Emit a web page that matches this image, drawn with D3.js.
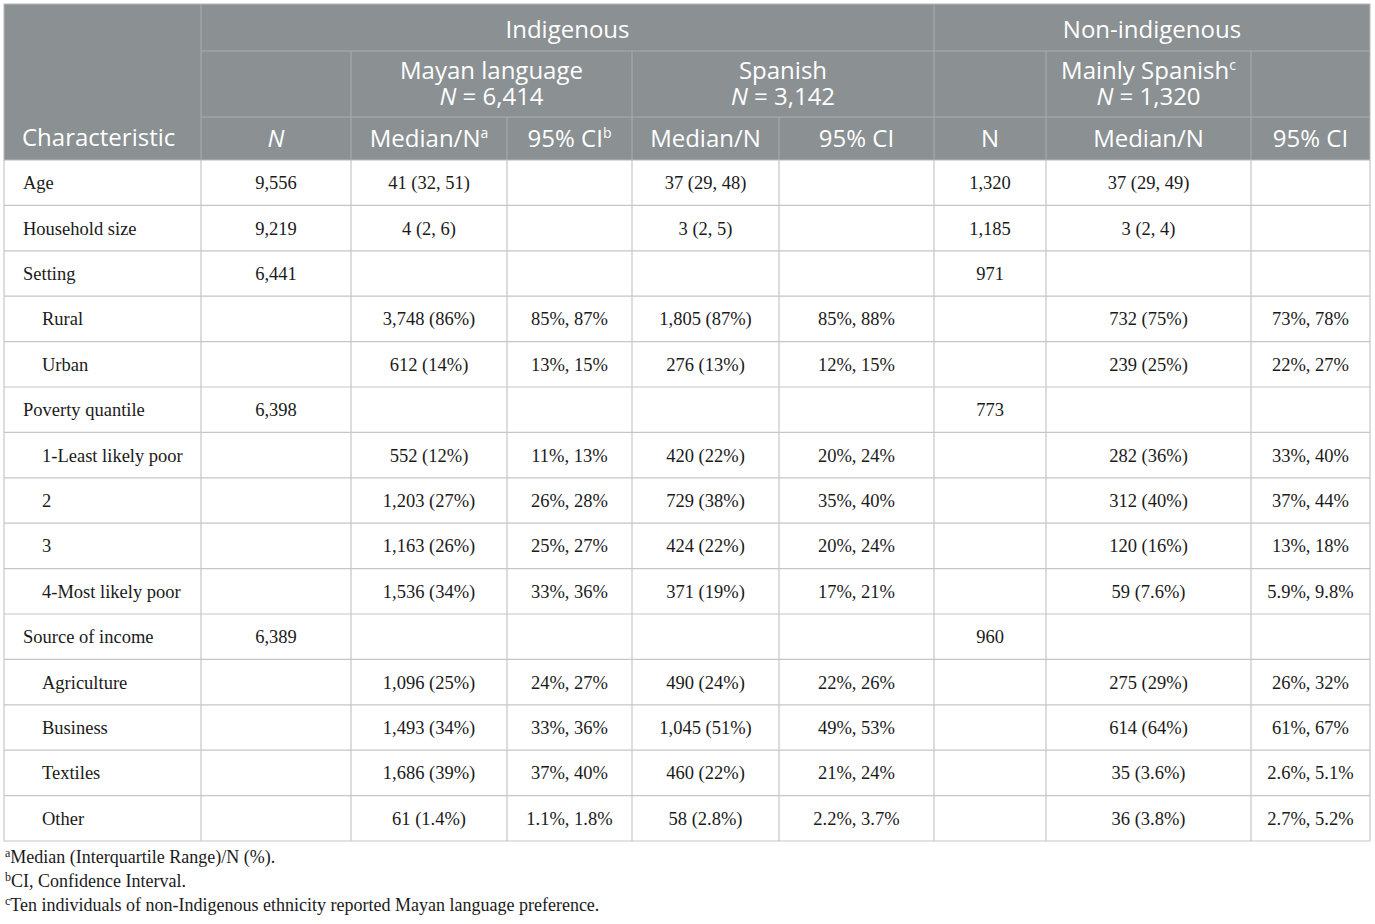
<!DOCTYPE html>
<html>
<head>
<meta charset="utf-8">
<script src="https://cdn.jsdelivr.net/npm/d3@7"></script>
<style>
  body { margin: 0; background: #fff; }
</style>
</head>
<body>
<div id="chart"></div>
<script>
// table data
const characteristics = ["Age", "Household size", "Setting", "Rural", "Urban", "Poverty quantile",
  "1-Least likely poor", "2", "3", "4-Most likely poor", "Source of income",
  "Agriculture", "Business", "Textiles", "Other"];
const subRow = [0, 0, 0, 1, 1, 0, 1, 1, 1, 1, 0, 1, 1, 1, 1];
const totalN = ["9,556", "9,219", "6,441", "", "", "6,398", "", "", "", "", "6,389", "", "", "", ""];
const mayanMedian = ["41 (32, 51)", "4 (2, 6)", "", "3,748 (86%)", "612 (14%)", "", "552 (12%)",
  "1,203 (27%)", "1,163 (26%)", "1,536 (34%)", "", "1,096 (25%)", "1,493 (34%)", "1,686 (39%)", "61 (1.4%)"];
const mayanCI = ["", "", "", "85%, 87%", "13%, 15%", "", "11%, 13%", "26%, 28%", "25%, 27%",
  "33%, 36%", "", "24%, 27%", "33%, 36%", "37%, 40%", "1.1%, 1.8%"];
const spanishMedian = ["37 (29, 48)", "3 (2, 5)", "", "1,805 (87%)", "276 (13%)", "", "420 (22%)",
  "729 (38%)", "424 (22%)", "371 (19%)", "", "490 (24%)", "1,045 (51%)", "460 (22%)", "58 (2.8%)"];
const spanishCI = ["", "", "", "85%, 88%", "12%, 15%", "", "20%, 24%", "35%, 40%", "20%, 24%",
  "17%, 21%", "", "22%, 26%", "49%, 53%", "21%, 24%", "2.2%, 3.7%"];
const nonN = ["1,320", "1,185", "971", "", "", "773", "", "", "", "", "960", "", "", "", ""];
const nonMedian = ["37 (29, 49)", "3 (2, 4)", "", "732 (75%)", "239 (25%)", "", "282 (36%)",
  "312 (40%)", "120 (16%)", "59 (7.6%)", "", "275 (29%)", "614 (64%)", "35 (3.6%)", "36 (3.8%)"];
const nonCI = ["", "", "", "73%, 78%", "22%, 27%", "", "33%, 40%", "37%, 44%", "13%, 18%",
  "5.9%, 9.8%", "", "26%, 32%", "61%, 67%", "2.6%, 5.1%", "2.7%, 5.2%"];
const footnotes = [
  ["a", "Median (Interquartile Range)/N (%)."],
  ["b", "CI, Confidence Interval."],
  ["c", "Ten individuals of non-Indigenous ethnicity reported Mayan language preference."]
];

const width = 1375;
const height = 924;

// column edges
const edges = [4, 201, 351, 507, 632, 779, 934, 1046, 1251, 1370];
const columns = [characteristics, totalN, mayanMedian, mayanCI, spanishMedian, spanishCI, nonN, nonMedian, nonCI];

const headTop = 4, head1 = 51, head2 = 117, headBottom = 160, tableBottom = 841;

const y = d3.scaleBand()
  .domain(d3.range(characteristics.length))
  .range([headBottom, tableBottom]);

const headFill = "#8b9093";
const headLine = "#a9adb0";
const gridLine = "#c6c6c6";
const sans = "'Open Sans', 'Noto Sans', sans-serif";
const serif = "'Liberation Serif', 'DejaVu Serif', serif";

const svg = d3.select("#chart")
  .append("svg")
  .attr("width", width)
  .attr("height", height);

// header background
svg.append("rect")
  .attr("x", edges[0])
  .attr("y", headTop)
  .attr("width", edges[9] - edges[0])
  .attr("height", headBottom - headTop)
  .attr("fill", headFill);

// header lines
const hLines = [
  [edges[1], edges[9], head1],
  [edges[1], edges[9], head2]
];
const vLines = [
  [edges[1], headTop, headBottom],
  [edges[6], headTop, headBottom],
  [edges[2], head1, headBottom],
  [edges[4], head1, headBottom],
  [edges[7], head1, headBottom],
  [edges[8], head1, headBottom],
  [edges[3], head2, headBottom],
  [edges[5], head2, headBottom]
];
svg.append("g").selectAll("line")
  .data(hLines)
  .enter().append("line")
  .attr("x1", d => d[0]).attr("x2", d => d[1])
  .attr("y1", d => d[2]).attr("y2", d => d[2])
  .attr("stroke", headLine).attr("stroke-width", 1);
svg.append("g").selectAll("line")
  .data(vLines)
  .enter().append("line")
  .attr("x1", d => d[0]).attr("x2", d => d[0])
  .attr("y1", d => d[1]).attr("y2", d => d[2])
  .attr("stroke", headLine).attr("stroke-width", 1);

// header text
const headText = svg.append("g")
  .attr("fill", "#fff")
  .attr("font-family", sans)
  .attr("font-size", 24);

function headLabel(x, yy, anchor) {
  return headText.append("text")
    .attr("x", x)
    .attr("y", yy)
    .attr("text-anchor", anchor || "middle");
}
function sup(t, s) {
  t.append("tspan").attr("dy", -9).attr("font-size", 14).text(s);
}

headLabel(22, 146, "start").text("Characteristic");
headLabel((edges[1] + edges[6]) / 2, 38).text("Indigenous");
headLabel((edges[6] + edges[9]) / 2, 38).text("Non-indigenous");

const groups = [
  { name: "Mayan language", n: "6,414", x0: edges[2], x1: edges[4] },
  { name: "Spanish", n: "3,142", x0: edges[4], x1: edges[6] },
  { name: "Mainly Spanish", n: "1,320", x0: edges[7], x1: edges[8], note: "c" }
];
groups.forEach(g => {
  const cx = (g.x0 + g.x1) / 2;
  // two lines in one text element
  const t = headLabel(cx, 79);
  t.append("tspan").text(g.name);
  if (g.note) t.append("tspan").attr("dy", -9).attr("font-size", 14).text(g.note);
  t.append("tspan").attr("x", cx).attr("y", 105).attr("font-style", "italic").text("N");
  t.append("tspan").text(" = " + g.n);
});

const subHeads = [
  { text: "N", italic: true },
  { text: "Median/N", note: "a" },
  { text: "95% CI", note: "b" },
  { text: "Median/N" },
  { text: "95% CI" },
  { text: "N" },
  { text: "Median/N" },
  { text: "95% CI" }
];
subHeads.forEach((h, i) => {
  const t = headLabel((edges[i + 1] + edges[i + 2]) / 2, 147)
    .attr("font-style", h.italic ? "italic" : null)
    .text(h.text);
  if (h.note) sup(t, h.note);
});

// body grid
const grid = svg.append("g")
  .attr("stroke", gridLine)
  .attr("stroke-width", 1.2);

grid.selectAll(".row-line")
  .data(d3.range(characteristics.length))
  .enter().append("line")
  .attr("x1", edges[0]).attr("x2", edges[9])
  .attr("y1", d => y(d) + y.bandwidth()).attr("y2", d => y(d) + y.bandwidth());

grid.selectAll(".col-line")
  .data(edges)
  .enter().append("line")
  .attr("x1", d => d).attr("x2", d => d)
  .attr("y1", headBottom).attr("y2", tableBottom);

// outer header border
svg.append("rect")
  .attr("x", edges[0])
  .attr("y", headTop)
  .attr("width", edges[9] - edges[0])
  .attr("height", headBottom - headTop)
  .attr("fill", "none")
  .attr("stroke", "#b5b8ba");

// body text
const body = svg.append("g")
  .attr("font-family", serif)
  .attr("font-size", 18.5)
  .attr("fill", "#1a1a1a");

columns.forEach((col, ci) => {
  body.append("g").selectAll("text")
    .data(col.map((v, i) => ({ v, i })))
    .enter().append("text")
    .attr("x", d => ci === 0 ? edges[0] + (subRow[d.i] ? 38 : 19) : (edges[ci] + edges[ci + 1]) / 2)
    .attr("y", d => y(d.i) + y.bandwidth() / 2)
    .attr("dy", "0.35em")
    .attr("text-anchor", ci === 0 ? "start" : "middle")
    .text(d => d.v);
});

// footnotes
const notes = svg.append("g")
  .attr("font-family", serif)
  .attr("font-size", 18)
  .attr("fill", "#1a1a1a");

notes.selectAll("text")
  .data(footnotes)
  .enter().append("text")
  .attr("x", 5)
  .attr("y", (d, i) => 863 + i * 24)
  .each(function(d) {
    const t = d3.select(this);
    t.append("tspan").attr("font-size", 12).attr("dy", -6).text(d[0]);
    t.append("tspan").attr("dy", 6).text(d[1]);
  });
</script>
</body>
</html>
